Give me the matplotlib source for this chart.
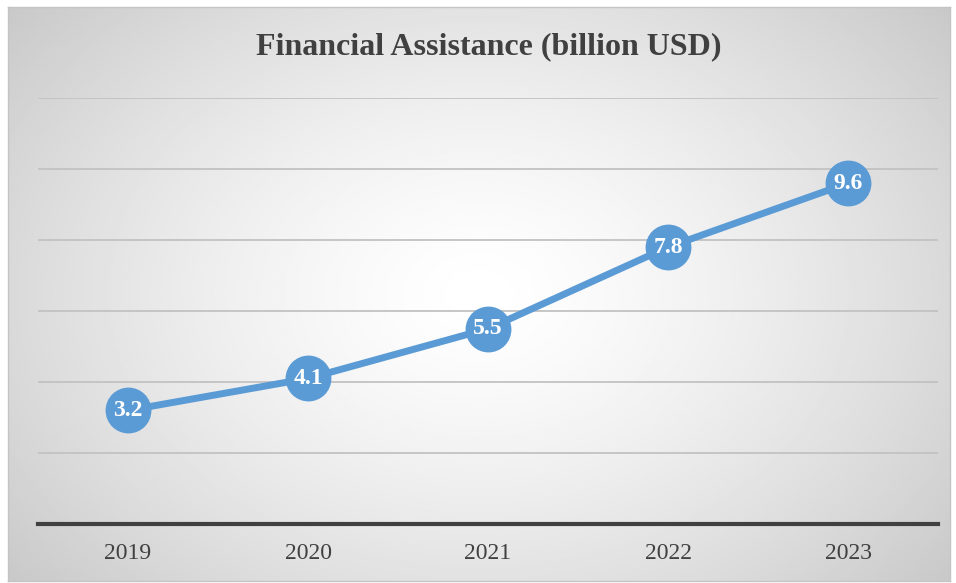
import matplotlib.pyplot as plt
import numpy as np

years = ["2019", "2020", "2021", "2022", "2023"]
values = [3.2, 4.1, 5.5, 7.8, 9.6]
y_ticks = [0, 2, 4, 6, 8, 10, 12]

plt.rcParams["font.family"] = ["Liberation Serif", "DejaVu Serif"]

fig = plt.figure(figsize=(9.56, 5.83), dpi=100)

# background panel with a radial grey gradient
bx0, by0, bx1, by1 = 8 / 956, 1 - 581 / 583, 950 / 956, 1 - 7 / 583
bg = fig.add_axes([bx0, by0, bx1 - bx0, by1 - by0])
gx, gy = np.meshgrid(np.linspace(0, 1, 400), np.linspace(0, 1, 250))
r = np.sqrt(((gx - 0.5) / 0.62) ** 2 + ((gy - 0.5) / 0.75) ** 2)
shade = np.clip(1.0 - 0.2 * r ** 1.4, 0, 1)
bg.imshow(shade, cmap="gray", vmin=0, vmax=1, aspect="auto", extent=[0, 1, 0, 1], origin="upper")
bg.set_xticks([])
bg.set_yticks([])
for s in bg.spines.values():
    s.set_color("#c4c4c4")
    s.set_linewidth(1)

ax = fig.add_axes([38 / 956, 1 - 524 / 583, 900 / 956, 426 / 583])
ax.patch.set_alpha(0)
x = np.arange(len(years))
ax.set_xlim(-0.5, len(years) - 0.5)
ax.set_ylim(0, 12)
ax.set_yticks(y_ticks)
ax.yaxis.grid(True, color="#c2c2c2", linewidth=1.3)
ax.set_axisbelow(True)
for side in ["top", "right", "left"]:
    ax.spines[side].set_visible(False)
ax.spines["bottom"].set_color("#404040")
ax.spines["bottom"].set_linewidth(3)
ax.spines["bottom"].set_zorder(3)
ax.tick_params(axis="y", left=False, labelleft=False)
ax.tick_params(axis="x", length=0, pad=14, labelsize=17, colors="#404040")
ax.set_xticks(x)
ax.set_xticklabels(years)

ax.plot(x, values, color="#5B9BD5", linewidth=5, marker="o", markersize=32,
        markerfacecolor="#5B9BD5", markeredgecolor="#5B9BD5", zorder=4)
for xi, v in zip(x, values):
    ax.text(xi, v, f"{v:.1f}", ha="center", va="center", color="white",
            fontsize=17, fontweight="bold", zorder=5)

fig.text(489 / 956, 1 - 47 / 583, "Financial Assistance (billion USD)", ha="center", va="center",
         fontsize=23, fontweight="bold", color="#404040")

fig.savefig("out.png", dpi=100, facecolor="white")
